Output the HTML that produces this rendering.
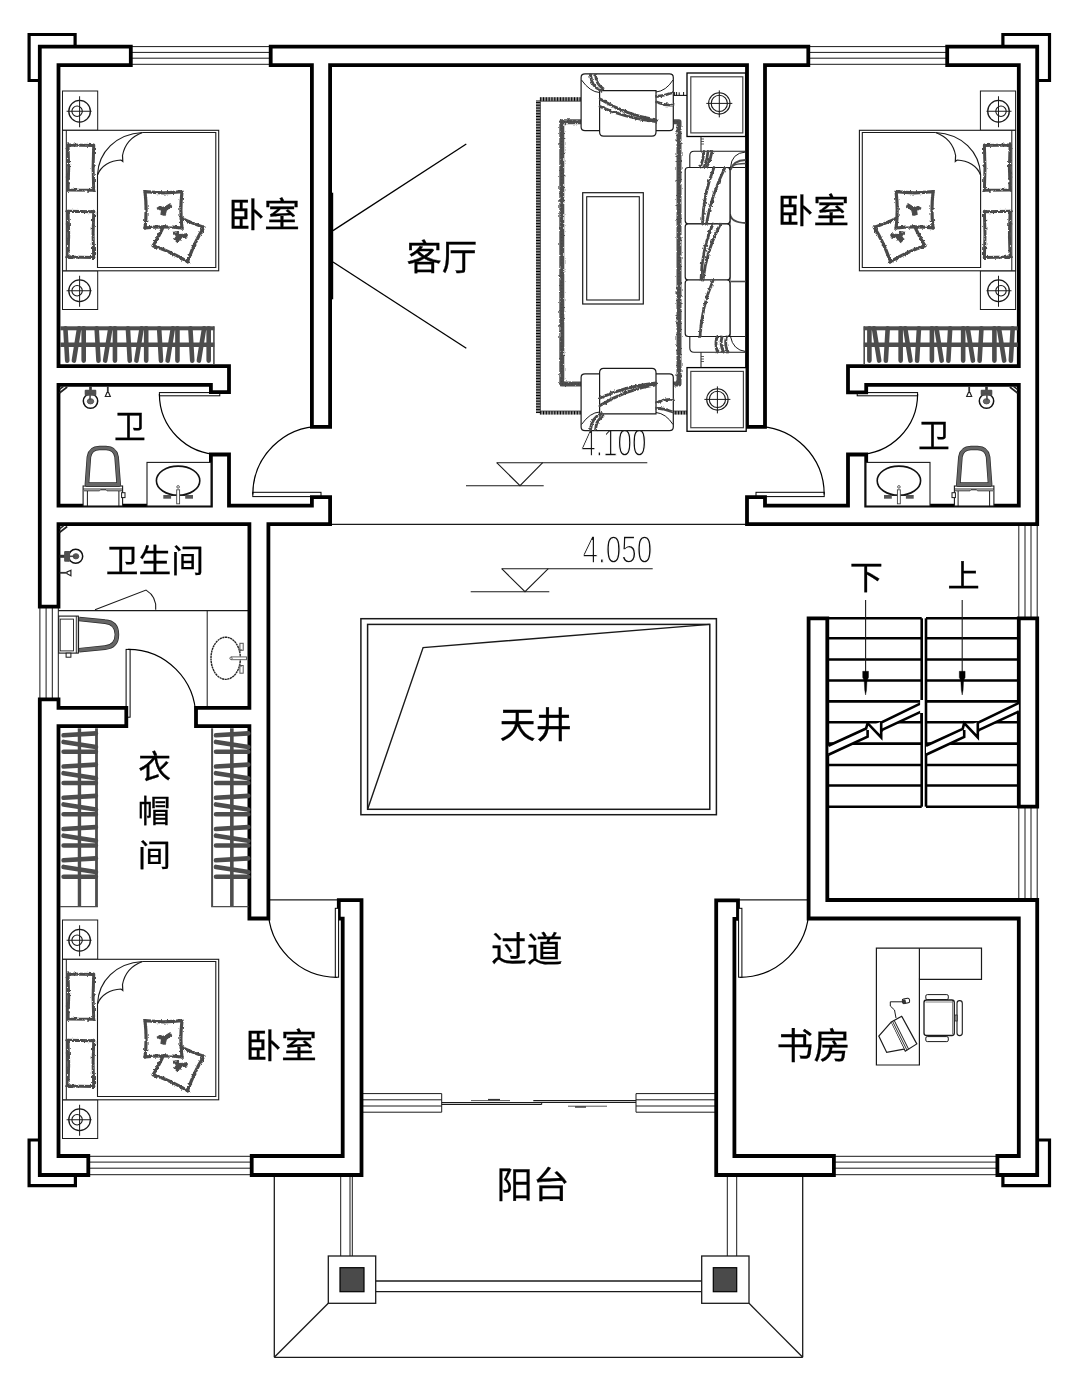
<!DOCTYPE html>
<html lang="zh"><head><meta charset="utf-8"><title>二层平面图</title>
<style>
html,body{margin:0;padding:0;background:#fff;}
body{width:1080px;height:1386px;overflow:hidden;}
svg{display:block}
text{font-family:"Liberation Sans","Noto Sans CJK SC",sans-serif;fill:#000;stroke:#000;stroke-width:0.3px;}
</style></head><body>
<svg width="1080" height="1386" viewBox="0 0 1080 1386" style="filter:grayscale(1)">
<rect width="1080" height="1386" fill="#fff"/>
<defs><filter id="rough" x="-5%" y="-5%" width="110%" height="110%"><feTurbulence type="fractalNoise" baseFrequency="0.4" numOctaves="2" seed="3" result="n"/><feDisplacementMap in="SourceGraphic" in2="n" scale="3" xChannelSelector="R" yChannelSelector="G"/></filter></defs>
<line x1="130.80" y1="46.60" x2="270.70" y2="46.60" stroke="#1a1a1a" stroke-width="1"/>
<line x1="130.80" y1="52.40" x2="270.70" y2="52.40" stroke="#1a1a1a" stroke-width="1"/>
<line x1="130.80" y1="58.20" x2="270.70" y2="58.20" stroke="#1a1a1a" stroke-width="1"/>
<line x1="130.80" y1="64.30" x2="270.70" y2="64.30" stroke="#1a1a1a" stroke-width="1"/>
<line x1="808.30" y1="46.60" x2="947.20" y2="46.60" stroke="#1a1a1a" stroke-width="1"/>
<line x1="808.30" y1="52.40" x2="947.20" y2="52.40" stroke="#1a1a1a" stroke-width="1"/>
<line x1="808.30" y1="58.20" x2="947.20" y2="58.20" stroke="#1a1a1a" stroke-width="1"/>
<line x1="808.30" y1="64.30" x2="947.20" y2="64.30" stroke="#1a1a1a" stroke-width="1"/>
<line x1="88.30" y1="1156.30" x2="251.70" y2="1156.30" stroke="#1a1a1a" stroke-width="1"/>
<line x1="88.30" y1="1162.10" x2="251.70" y2="1162.10" stroke="#1a1a1a" stroke-width="1"/>
<line x1="88.30" y1="1168.20" x2="251.70" y2="1168.20" stroke="#1a1a1a" stroke-width="1"/>
<line x1="88.30" y1="1174.70" x2="251.70" y2="1174.70" stroke="#1a1a1a" stroke-width="1"/>
<line x1="833.90" y1="1156.30" x2="997.40" y2="1156.30" stroke="#1a1a1a" stroke-width="1"/>
<line x1="833.90" y1="1162.10" x2="997.40" y2="1162.10" stroke="#1a1a1a" stroke-width="1"/>
<line x1="833.90" y1="1168.20" x2="997.40" y2="1168.20" stroke="#1a1a1a" stroke-width="1"/>
<line x1="833.90" y1="1174.70" x2="997.40" y2="1174.70" stroke="#1a1a1a" stroke-width="1"/>
<line x1="39.90" y1="606.70" x2="39.90" y2="700.00" stroke="#1a1a1a" stroke-width="1"/>
<line x1="46.10" y1="606.70" x2="46.10" y2="700.00" stroke="#1a1a1a" stroke-width="1"/>
<line x1="52.30" y1="606.70" x2="52.30" y2="700.00" stroke="#1a1a1a" stroke-width="1"/>
<line x1="58.30" y1="606.70" x2="58.30" y2="700.00" stroke="#1a1a1a" stroke-width="1"/>
<line x1="1018.80" y1="524.10" x2="1018.80" y2="618.30" stroke="#1a1a1a" stroke-width="1"/>
<line x1="1025.00" y1="524.10" x2="1025.00" y2="618.30" stroke="#1a1a1a" stroke-width="1"/>
<line x1="1031.00" y1="524.10" x2="1031.00" y2="618.30" stroke="#1a1a1a" stroke-width="1"/>
<line x1="1037.20" y1="524.10" x2="1037.20" y2="618.30" stroke="#1a1a1a" stroke-width="1"/>
<line x1="1018.80" y1="806.70" x2="1018.80" y2="900.00" stroke="#1a1a1a" stroke-width="1"/>
<line x1="1025.00" y1="806.70" x2="1025.00" y2="900.00" stroke="#1a1a1a" stroke-width="1"/>
<line x1="1031.00" y1="806.70" x2="1031.00" y2="900.00" stroke="#1a1a1a" stroke-width="1"/>
<line x1="1037.20" y1="806.70" x2="1037.20" y2="900.00" stroke="#1a1a1a" stroke-width="1"/>
<line x1="330.00" y1="524.40" x2="747.00" y2="524.40" stroke="#1a1a1a" stroke-width="1.1"/>
<line x1="58.30" y1="610.60" x2="250.00" y2="610.60" stroke="#1a1a1a" stroke-width="1.1"/>
<line x1="207.20" y1="610.60" x2="207.20" y2="708.30" stroke="#1a1a1a" stroke-width="1"/>
<line x1="274.30" y1="1175.00" x2="274.30" y2="1357.30" stroke="#1a1a1a" stroke-width="1.3"/>
<line x1="802.70" y1="1175.00" x2="802.70" y2="1357.30" stroke="#1a1a1a" stroke-width="1.3"/>
<line x1="274.30" y1="1357.30" x2="802.70" y2="1357.30" stroke="#1a1a1a" stroke-width="1.3"/>
<line x1="274.30" y1="1357.30" x2="328.30" y2="1303.30" stroke="#1a1a1a" stroke-width="1.3"/>
<line x1="802.70" y1="1357.30" x2="749.00" y2="1303.30" stroke="#1a1a1a" stroke-width="1.3"/>
<line x1="340.70" y1="1175.00" x2="340.70" y2="1256.00" stroke="#1a1a1a" stroke-width="1"/>
<line x1="350.00" y1="1175.00" x2="350.00" y2="1256.00" stroke="#1a1a1a" stroke-width="1"/>
<line x1="352.30" y1="1175.00" x2="352.30" y2="1256.00" stroke="#1a1a1a" stroke-width="1"/>
<line x1="727.30" y1="1175.00" x2="727.30" y2="1256.00" stroke="#1a1a1a" stroke-width="1"/>
<line x1="736.70" y1="1175.00" x2="736.70" y2="1256.00" stroke="#1a1a1a" stroke-width="1"/>
<line x1="375.70" y1="1281.00" x2="701.70" y2="1281.00" stroke="#1a1a1a" stroke-width="1.3"/>
<line x1="375.70" y1="1291.70" x2="701.70" y2="1291.70" stroke="#1a1a1a" stroke-width="1.3"/>
<rect x="328.30" y="1256.00" width="47.40" height="47.30" fill="#fff" stroke="#1a1a1a" stroke-width="1.3"/>
<rect x="701.70" y="1256.00" width="47.30" height="47.30" fill="#fff" stroke="#1a1a1a" stroke-width="1.3"/>
<rect x="340.00" y="1267.70" width="24.00" height="24.00" fill="#4a4a4a" stroke="#000" stroke-width="1.2"/>
<rect x="713.30" y="1267.70" width="23.40" height="24.00" fill="#4a4a4a" stroke="#000" stroke-width="1.2"/>
<line x1="361.50" y1="1093.60" x2="441.70" y2="1093.60" stroke="#1a1a1a" stroke-width="1"/>
<line x1="636.00" y1="1093.60" x2="716.20" y2="1093.60" stroke="#1a1a1a" stroke-width="1"/>
<line x1="361.50" y1="1099.80" x2="441.70" y2="1099.80" stroke="#1a1a1a" stroke-width="1"/>
<line x1="636.00" y1="1099.80" x2="716.20" y2="1099.80" stroke="#1a1a1a" stroke-width="1"/>
<line x1="361.50" y1="1106.00" x2="441.70" y2="1106.00" stroke="#1a1a1a" stroke-width="1"/>
<line x1="636.00" y1="1106.00" x2="716.20" y2="1106.00" stroke="#1a1a1a" stroke-width="1"/>
<line x1="361.50" y1="1112.20" x2="441.70" y2="1112.20" stroke="#1a1a1a" stroke-width="1"/>
<line x1="636.00" y1="1112.20" x2="716.20" y2="1112.20" stroke="#1a1a1a" stroke-width="1"/>
<line x1="441.70" y1="1093.60" x2="441.70" y2="1112.20" stroke="#1a1a1a" stroke-width="1"/>
<line x1="636.00" y1="1093.60" x2="636.00" y2="1112.20" stroke="#1a1a1a" stroke-width="1"/>
<line x1="441.70" y1="1102.70" x2="541.70" y2="1102.70" stroke="#1a1a1a" stroke-width="1.2"/>
<line x1="441.70" y1="1104.50" x2="541.70" y2="1104.50" stroke="#1a1a1a" stroke-width="1"/>
<line x1="541.70" y1="1102.70" x2="541.70" y2="1104.50" stroke="#1a1a1a" stroke-width="1"/>
<line x1="533.30" y1="1100.70" x2="636.00" y2="1100.70" stroke="#1a1a1a" stroke-width="1.2"/>
<line x1="533.30" y1="1102.50" x2="636.00" y2="1102.50" stroke="#1a1a1a" stroke-width="1"/>
<line x1="471.00" y1="1100.60" x2="510.00" y2="1100.60" stroke="#555" stroke-width="1"/>
<line x1="488.00" y1="1099.60" x2="500.00" y2="1099.60" stroke="#333" stroke-width="1.4"/>
<line x1="568.00" y1="1106.20" x2="607.00" y2="1106.20" stroke="#555" stroke-width="1"/>
<line x1="575.00" y1="1107.00" x2="586.00" y2="1107.00" stroke="#333" stroke-width="1.4"/>
<rect x="252.80" y="492.30" width="68.20" height="4.30" fill="#fff" stroke="#000" stroke-width="1"/>
<path d="M252.80,494.50 A68.2,68.2 0 0 1 321.00,426.30" fill="none" stroke="#000" stroke-width="1.2" />
<rect x="159.40" y="392.60" width="60.40" height="3.20" fill="#fff" stroke="#000" stroke-width="1"/>
<path d="M159.40,394.00 A60.4,60.4 0 0 0 219.80,454.40" fill="none" stroke="#000" stroke-width="1.2" />
<g transform="translate(1077,0) scale(-1,1)">
<rect x="252.80" y="492.30" width="68.20" height="4.30" fill="#fff" stroke="#000" stroke-width="1"/>
<path d="M252.80,494.50 A68.2,68.2 0 0 1 321.00,426.30" fill="none" stroke="#000" stroke-width="1.2" />
<rect x="159.40" y="392.60" width="60.40" height="3.20" fill="#fff" stroke="#000" stroke-width="1"/>
<path d="M159.40,394.00 A60.4,60.4 0 0 0 219.80,454.40" fill="none" stroke="#000" stroke-width="1.2" />
</g>
<rect x="126.10" y="649.40" width="4.00" height="67.80" fill="#fff" stroke="#000" stroke-width="1"/>
<path d="M128.10,649.40 A67.6,67.6 0 0 1 195.70,717.00" fill="none" stroke="#000" stroke-width="1.2" />
<line x1="268.40" y1="899.90" x2="338.80" y2="899.90" stroke="#1a1a1a" stroke-width="1.1"/>
<path d="M268.20,908.30 A69,69 0 0 0 337.20,977.30" fill="none" stroke="#000" stroke-width="1.2" />
<line x1="738.30" y1="899.90" x2="808.30" y2="899.90" stroke="#1a1a1a" stroke-width="1.1"/>
<path d="M808.80,908.30 A69,69 0 0 1 739.80,977.30" fill="none" stroke="#000" stroke-width="1.2" />
<path d="M95,609.8 L146.1,590.1 C152.5,594 156.5,601 155.7,609.8" fill="none" stroke="#1a1a1a" stroke-width="1.1" />
<path d="M37.90,44.70H132.70V67.00H37.90ZM268.80,44.70H810.20V67.00H268.80ZM945.30,44.70H1039.10V67.00H945.30ZM37.90,44.70H60.40V608.50H37.90ZM37.90,697.50H60.40V1176.90H37.90ZM1016.90,44.70H1039.10V526.00H1016.90ZM1016.90,616.40H1039.10V808.60H1016.90ZM1016.90,898.10H1039.10V1176.90H1016.90ZM37.90,1154.10H90.20V1176.90H37.90ZM249.80,1154.10H363.40V1176.90H249.80ZM714.30,1154.10H835.80V1176.90H714.30ZM995.50,1154.10H1039.10V1176.90H995.50ZM310.00,58.10H332.00V428.70H310.00ZM745.10,58.10H766.90V428.70H745.10ZM48.10,364.20H230.90V386.70H48.10ZM209.00,364.20H230.90V394.10H209.00ZM209.00,452.60H230.90V511.90H209.00ZM37.90,503.80H332.00V526.00H37.90ZM310.00,495.20H332.00V526.00H310.00ZM247.50,513.10H270.30V920.40H247.50ZM37.90,706.00H128.20V728.00H37.90ZM194.10,706.00H256.90V728.00H194.10ZM340.80,906.10H363.40V1176.90H340.80ZM336.90,898.30H363.40V920.60H336.90ZM846.10,364.20H1031.90V386.70H846.10ZM846.10,364.20H868.10V394.20H846.10ZM846.10,452.60H868.10V511.90H846.10ZM745.10,503.80H1039.10V526.00H745.10ZM745.10,495.20H766.90V526.00H745.10ZM806.70,616.40H829.20V920.40H806.70ZM806.70,898.10H1039.10V920.40H806.70ZM714.30,906.10H736.30V1176.90H714.30ZM714.30,898.40H739.90V920.80H714.30Z" fill="#000" fill-rule="nonzero"/>
<path d="M41.70,48.50H128.90V63.20H41.70ZM272.60,48.50H806.40V63.20H272.60ZM949.10,48.50H1035.30V63.20H949.10ZM41.70,48.50H56.60V604.70H41.70ZM41.70,701.30H56.60V1173.10H41.70ZM1020.70,48.50H1035.30V522.20H1020.70ZM1020.70,620.20H1035.30V804.80H1020.70ZM1020.70,901.90H1035.30V1173.10H1020.70ZM41.70,1157.90H86.40V1173.10H41.70ZM253.60,1157.90H359.60V1173.10H253.60ZM718.10,1157.90H832.00V1173.10H718.10ZM999.30,1157.90H1035.30V1173.10H999.30ZM313.80,61.90H328.20V424.90H313.80ZM748.90,61.90H763.10V424.90H748.90ZM51.90,368.00H227.10V382.90H51.90ZM212.80,368.00H227.10V390.30H212.80ZM212.80,456.40H227.10V508.10H212.80ZM41.70,507.60H328.20V522.20H41.70ZM313.80,499.00H328.20V522.20H313.80ZM251.30,516.90H266.50V916.60H251.30ZM41.70,709.80H124.40V724.20H41.70ZM197.90,709.80H253.10V724.20H197.90ZM344.60,909.90H359.60V1173.10H344.60ZM340.70,902.10H359.60V916.80H340.70ZM849.90,368.00H1028.10V382.90H849.90ZM849.90,368.00H864.30V390.40H849.90ZM849.90,456.40H864.30V508.10H849.90ZM748.90,507.60H1035.30V522.20H748.90ZM748.90,499.00H763.10V522.20H748.90ZM810.50,620.20H825.40V916.60H810.50ZM810.50,901.90H1035.30V916.60H810.50ZM718.10,909.90H732.50V1173.10H718.10ZM718.10,902.20H736.10V917.00H718.10Z" fill="#fff" fill-rule="nonzero"/>
<rect x="335.30" y="908.30" width="3.30" height="68.90" fill="#fff" stroke="#000" stroke-width="1"/>
<rect x="738.60" y="908.30" width="3.30" height="68.90" fill="#fff" stroke="#000" stroke-width="1"/>
<rect x="330" y="192.7" width="3.2" height="106.6" fill="#000"/>
<path d="M75.1,46.7 V34.5 H29.1 V80.5 H39.8" fill="none" stroke="#000" stroke-width="3.2" />
<path d="M1002.9,46.7 V34.5 H1049.5 V80.5 H1037.2" fill="none" stroke="#000" stroke-width="3.2" />
<path d="M39.8,1140 H29.1 V1185.7 H75.4 V1175" fill="none" stroke="#000" stroke-width="3.2" />
<path d="M1037.2,1140 H1049.5 V1185.7 H1002.9 V1175" fill="none" stroke="#000" stroke-width="3.2" />
<rect x="360.90" y="618.70" width="355.50" height="196.00" fill="none" stroke="#1a1a1a" stroke-width="1.5"/>
<rect x="367.60" y="624.40" width="342.20" height="184.90" fill="none" stroke="#1a1a1a" stroke-width="1.5"/>
<path d="M367.6,809.3 L423.1,647.6 L709.8,624.4" fill="none" stroke="#1a1a1a" stroke-width="1.4" />
<line x1="827.30" y1="618.30" x2="921.70" y2="618.30" stroke="#000" stroke-width="2.6"/>
<line x1="926.00" y1="618.30" x2="1018.80" y2="618.30" stroke="#000" stroke-width="2.6"/>
<line x1="827.30" y1="638.30" x2="921.70" y2="638.30" stroke="#000" stroke-width="2.6"/>
<line x1="926.00" y1="638.30" x2="1018.80" y2="638.30" stroke="#000" stroke-width="2.6"/>
<line x1="827.30" y1="659.50" x2="921.70" y2="659.50" stroke="#000" stroke-width="2.6"/>
<line x1="926.00" y1="659.50" x2="1018.80" y2="659.50" stroke="#000" stroke-width="2.6"/>
<line x1="827.30" y1="680.50" x2="921.70" y2="680.50" stroke="#000" stroke-width="2.6"/>
<line x1="926.00" y1="680.50" x2="1018.80" y2="680.50" stroke="#000" stroke-width="2.6"/>
<line x1="827.30" y1="701.40" x2="921.70" y2="701.40" stroke="#000" stroke-width="2.6"/>
<line x1="926.00" y1="701.40" x2="1018.80" y2="701.40" stroke="#000" stroke-width="2.6"/>
<line x1="827.30" y1="722.20" x2="921.70" y2="722.20" stroke="#000" stroke-width="2.6"/>
<line x1="926.00" y1="722.20" x2="1018.80" y2="722.20" stroke="#000" stroke-width="2.6"/>
<line x1="827.30" y1="743.60" x2="921.70" y2="743.60" stroke="#000" stroke-width="2.6"/>
<line x1="926.00" y1="743.60" x2="1018.80" y2="743.60" stroke="#000" stroke-width="2.6"/>
<line x1="827.30" y1="765.00" x2="921.70" y2="765.00" stroke="#000" stroke-width="2.6"/>
<line x1="926.00" y1="765.00" x2="1018.80" y2="765.00" stroke="#000" stroke-width="2.6"/>
<line x1="827.30" y1="785.50" x2="921.70" y2="785.50" stroke="#000" stroke-width="2.6"/>
<line x1="926.00" y1="785.50" x2="1018.80" y2="785.50" stroke="#000" stroke-width="2.6"/>
<line x1="827.30" y1="806.70" x2="921.70" y2="806.70" stroke="#000" stroke-width="2.6"/>
<line x1="926.00" y1="806.70" x2="1018.80" y2="806.70" stroke="#000" stroke-width="2.6"/>
<line x1="921.70" y1="618.30" x2="921.70" y2="806.70" stroke="#000" stroke-width="2.6"/>
<line x1="926.00" y1="618.30" x2="926.00" y2="806.70" stroke="#000" stroke-width="2.6"/>
<polygon points="828.4,745.8 921.7,702.9 921.7,711.4 828.4,754.8" fill="#fff"/>
<path d="M828.4,745.8 L866.1,728.47 L867.6,723.2 L881.2,737.5 L881.2,722.52 L921.7,702.9" fill="none" stroke="#000" stroke-width="2.6" stroke-linejoin="miter"/>
<path d="M828.4,754.8 L867.6,736.57 L867.6,730 M881.2,731 L882.7,729.54 L921.7,711.4" fill="none" stroke="#000" stroke-width="2.6" />
<polygon points="926,745.8 1018.9,702.9 1018.9,711.4 926,754.8" fill="#fff"/>
<path d="M926,745.8 L962.7,728.85 L964.2,723.2 L977.8000000000001,737.5 L977.8000000000001,722.88 L1018.9,702.9" fill="none" stroke="#000" stroke-width="2.6" stroke-linejoin="miter"/>
<path d="M926,754.8 L964.2,736.95 L964.2,730 M977.8000000000001,731 L979.3000000000001,729.90 L1018.9,711.4" fill="none" stroke="#000" stroke-width="2.6" />
<line x1="921.70" y1="700.00" x2="921.70" y2="713.00" stroke="#fff" stroke-width="3.2"/>
<line x1="921.70" y1="713.00" x2="921.70" y2="722.00" stroke="#000" stroke-width="2.6"/>
<line x1="865.60" y1="600.00" x2="865.60" y2="672.00" stroke="#1a1a1a" stroke-width="1.1"/>
<path d="M862.7,671.3 H868.5 V677.5 L867.0,680.5 L866.5,690 L865.6,695 L864.7,690 L864.2,680.5 L862.7,677.5 Z" fill="#000" stroke="#000" stroke-width="0.4" />
<line x1="962.20" y1="600.00" x2="962.20" y2="672.00" stroke="#1a1a1a" stroke-width="1.1"/>
<path d="M959.3000000000001,671.3 H965.1 V677.5 L963.6,680.5 L963.1,690 L962.2,695 L961.3000000000001,690 L960.8000000000001,680.5 L959.3000000000001,677.5 Z" fill="#000" stroke="#000" stroke-width="0.4" />
<line x1="496.70" y1="462.70" x2="647.30" y2="462.70" stroke="#1a1a1a" stroke-width="1.1"/>
<path d="M496.7,462.7 L520,485.7 L542.7,462.7" fill="none" stroke="#1a1a1a" stroke-width="1.1" />
<line x1="466.00" y1="485.70" x2="543.70" y2="485.70" stroke="#1a1a1a" stroke-width="1.1"/>
<line x1="501.70" y1="568.70" x2="652.70" y2="568.70" stroke="#1a1a1a" stroke-width="1.1"/>
<path d="M501.7,568.7 L525,591.7 L548.3,568.7" fill="none" stroke="#1a1a1a" stroke-width="1.1" />
<line x1="470.70" y1="591.70" x2="549.30" y2="591.70" stroke="#1a1a1a" stroke-width="1.1"/>
<text transform="translate(581.32,456.25) scale(0.7778,1.1476)" font-size="33.5" style="font-family:'Liberation Sans',sans-serif;fill:#111;stroke:#fff;stroke-width:1.25px">4.100</text>
<text transform="translate(582.57,562.78) scale(0.8333,1.1762)" font-size="33.5" style="font-family:'Liberation Sans',sans-serif;fill:#111;stroke:#fff;stroke-width:1.25px">4.050</text>
<line x1="333.00" y1="230.60" x2="466.30" y2="144.00" stroke="#000" stroke-width="1.3"/>
<line x1="333.00" y1="262.00" x2="466.30" y2="348.30" stroke="#000" stroke-width="1.3"/>
<g transform="translate(0,0)">
<rect x="62.50" y="91.00" width="35.20" height="39.30" fill="#fff" stroke="#1a1a1a" stroke-width="1"/>
<circle cx="79.60" cy="111.25" r="10.80" fill="none" stroke="#1a1a1a" stroke-width="1.3"/>
<circle cx="77.10" cy="111.25" r="5.20" fill="none" stroke="#1a1a1a" stroke-width="1.1"/>
<line x1="66.60" y1="111.25" x2="91.60" y2="111.25" stroke="#1a1a1a" stroke-width="1"/>
<line x1="79.60" y1="96.25" x2="79.60" y2="127.25" stroke="#1a1a1a" stroke-width="1"/>
<rect x="62.50" y="270.80" width="35.20" height="38.70" fill="#fff" stroke="#1a1a1a" stroke-width="1"/>
<circle cx="79.60" cy="290.75" r="10.80" fill="none" stroke="#1a1a1a" stroke-width="1.3"/>
<circle cx="77.10" cy="290.75" r="5.20" fill="none" stroke="#1a1a1a" stroke-width="1.1"/>
<line x1="66.60" y1="290.75" x2="91.60" y2="290.75" stroke="#1a1a1a" stroke-width="1"/>
<line x1="79.60" y1="275.75" x2="79.60" y2="306.75" stroke="#1a1a1a" stroke-width="1"/>
<rect x="62.50" y="130.30" width="156.20" height="140.50" fill="#fff" stroke="#1a1a1a" stroke-width="1.1"/>
<line x1="66.30" y1="130.30" x2="66.30" y2="270.80" stroke="#1a1a1a" stroke-width="1"/>
<path d="M142.5,132.5 H215.8 V267.5 H97.5 V175" fill="none" stroke="#1a1a1a" stroke-width="1.1" />
<path d="M97.5,175 C98.5,152 116,134 142.5,132.5" fill="none" stroke="#1a1a1a" stroke-width="1.2" />
<path d="M97.5,175 C101,166 110,160.5 121,160 L122.8,161.5 L122.5,155.5 C124.5,145 131.5,136.5 142.5,132.5" fill="none" stroke="#1a1a1a" stroke-width="1.2" />
<g filter="url(#rough)">
<path d="M68,145 L93.7,145.5 L93.10000000000001,167.65 L93.7,190.3 L68,189.9 L68.7,167.65 Z" fill="#fff" stroke="#4a4a4a" stroke-width="3.0" stroke-linejoin="round"/>
<circle cx="68.00" cy="145.00" r="1.10" fill="#4a4a4a" stroke="#4a4a4a" stroke-width="1"/>
<circle cx="93.70" cy="145.00" r="1.10" fill="#4a4a4a" stroke="#4a4a4a" stroke-width="1"/>
<circle cx="68.00" cy="190.30" r="1.10" fill="#4a4a4a" stroke="#4a4a4a" stroke-width="1"/>
<circle cx="93.70" cy="190.30" r="1.10" fill="#4a4a4a" stroke="#4a4a4a" stroke-width="1"/>
</g>
<g filter="url(#rough)">
<path d="M68,211.3 L93.7,211.8 L93.10000000000001,234.4 L93.7,257.5 L68,257.1 L68.7,234.4 Z" fill="#fff" stroke="#4a4a4a" stroke-width="3.0" stroke-linejoin="round"/>
<circle cx="68.00" cy="211.30" r="1.10" fill="#4a4a4a" stroke="#4a4a4a" stroke-width="1"/>
<circle cx="93.70" cy="211.30" r="1.10" fill="#4a4a4a" stroke="#4a4a4a" stroke-width="1"/>
<circle cx="68.00" cy="257.50" r="1.10" fill="#4a4a4a" stroke="#4a4a4a" stroke-width="1"/>
<circle cx="93.70" cy="257.50" r="1.10" fill="#4a4a4a" stroke="#4a4a4a" stroke-width="1"/>
</g>
<g filter="url(#rough)">
<g transform="rotate(25 178.5 236.5)">
<path d="M159.5,217.5 Q178.5,219.7 197.5,217.5 Q195.3,236.5 197.5,255.5 Q178.5,253.3 159.5,255.5 Q161.7,236.5 159.5,217.5 Z" fill="#fff" stroke="#4a4a4a" stroke-width="3.2" stroke-linejoin="round"/>
<circle cx="159.50" cy="217.50" r="1.20" fill="#4a4a4a" stroke="#4a4a4a" stroke-width="1"/>
<circle cx="197.50" cy="217.50" r="1.20" fill="#4a4a4a" stroke="#4a4a4a" stroke-width="1"/>
<circle cx="159.50" cy="255.50" r="1.20" fill="#4a4a4a" stroke="#4a4a4a" stroke-width="1"/>
<circle cx="197.50" cy="255.50" r="1.20" fill="#4a4a4a" stroke="#4a4a4a" stroke-width="1"/>
<path d="M172.0,235.0 l4,-2.6 l2.6,2 l6.5,-4 l1.4,2.6 l-5.2,4 l-1.3,5.2 l-4,-1.3 l0.6,-4 Z" fill="#4a4a4a" stroke="#4a4a4a" stroke-width="1.2" />
</g>
</g>
<g filter="url(#rough)">
<path d="M145,191.7 Q163.5,193.89999999999998 182,191.7 Q179.8,209.85 182,228 Q163.5,225.8 145,228 Q147.2,209.85 145,191.7 Z" fill="#fff" stroke="#4a4a4a" stroke-width="3.2" stroke-linejoin="round"/>
<circle cx="145.00" cy="191.70" r="1.20" fill="#4a4a4a" stroke="#4a4a4a" stroke-width="1"/>
<circle cx="182.00" cy="191.70" r="1.20" fill="#4a4a4a" stroke="#4a4a4a" stroke-width="1"/>
<circle cx="145.00" cy="228.00" r="1.20" fill="#4a4a4a" stroke="#4a4a4a" stroke-width="1"/>
<circle cx="182.00" cy="228.00" r="1.20" fill="#4a4a4a" stroke="#4a4a4a" stroke-width="1"/>
<path d="M157.0,208.35 l4,-2.6 l2.6,2 l6.5,-4 l1.4,2.6 l-5.2,4 l-1.3,5.2 l-4,-1.3 l0.6,-4 Z" fill="#4a4a4a" stroke="#4a4a4a" stroke-width="1.2" />
</g>
</g>
<g transform="translate(0,829)">
<rect x="62.50" y="91.00" width="35.20" height="39.30" fill="#fff" stroke="#1a1a1a" stroke-width="1"/>
<circle cx="79.60" cy="111.25" r="10.80" fill="none" stroke="#1a1a1a" stroke-width="1.3"/>
<circle cx="77.10" cy="111.25" r="5.20" fill="none" stroke="#1a1a1a" stroke-width="1.1"/>
<line x1="66.60" y1="111.25" x2="91.60" y2="111.25" stroke="#1a1a1a" stroke-width="1"/>
<line x1="79.60" y1="96.25" x2="79.60" y2="127.25" stroke="#1a1a1a" stroke-width="1"/>
<rect x="62.50" y="270.80" width="35.20" height="38.70" fill="#fff" stroke="#1a1a1a" stroke-width="1"/>
<circle cx="79.60" cy="290.75" r="10.80" fill="none" stroke="#1a1a1a" stroke-width="1.3"/>
<circle cx="77.10" cy="290.75" r="5.20" fill="none" stroke="#1a1a1a" stroke-width="1.1"/>
<line x1="66.60" y1="290.75" x2="91.60" y2="290.75" stroke="#1a1a1a" stroke-width="1"/>
<line x1="79.60" y1="275.75" x2="79.60" y2="306.75" stroke="#1a1a1a" stroke-width="1"/>
<rect x="62.50" y="130.30" width="156.20" height="140.50" fill="#fff" stroke="#1a1a1a" stroke-width="1.1"/>
<line x1="66.30" y1="130.30" x2="66.30" y2="270.80" stroke="#1a1a1a" stroke-width="1"/>
<path d="M142.5,132.5 H215.8 V267.5 H97.5 V175" fill="none" stroke="#1a1a1a" stroke-width="1.1" />
<path d="M97.5,175 C98.5,152 116,134 142.5,132.5" fill="none" stroke="#1a1a1a" stroke-width="1.2" />
<path d="M97.5,175 C101,166 110,160.5 121,160 L122.8,161.5 L122.5,155.5 C124.5,145 131.5,136.5 142.5,132.5" fill="none" stroke="#1a1a1a" stroke-width="1.2" />
<g filter="url(#rough)">
<path d="M68,145 L93.7,145.5 L93.10000000000001,167.65 L93.7,190.3 L68,189.9 L68.7,167.65 Z" fill="#fff" stroke="#4a4a4a" stroke-width="3.0" stroke-linejoin="round"/>
<circle cx="68.00" cy="145.00" r="1.10" fill="#4a4a4a" stroke="#4a4a4a" stroke-width="1"/>
<circle cx="93.70" cy="145.00" r="1.10" fill="#4a4a4a" stroke="#4a4a4a" stroke-width="1"/>
<circle cx="68.00" cy="190.30" r="1.10" fill="#4a4a4a" stroke="#4a4a4a" stroke-width="1"/>
<circle cx="93.70" cy="190.30" r="1.10" fill="#4a4a4a" stroke="#4a4a4a" stroke-width="1"/>
</g>
<g filter="url(#rough)">
<path d="M68,211.3 L93.7,211.8 L93.10000000000001,234.4 L93.7,257.5 L68,257.1 L68.7,234.4 Z" fill="#fff" stroke="#4a4a4a" stroke-width="3.0" stroke-linejoin="round"/>
<circle cx="68.00" cy="211.30" r="1.10" fill="#4a4a4a" stroke="#4a4a4a" stroke-width="1"/>
<circle cx="93.70" cy="211.30" r="1.10" fill="#4a4a4a" stroke="#4a4a4a" stroke-width="1"/>
<circle cx="68.00" cy="257.50" r="1.10" fill="#4a4a4a" stroke="#4a4a4a" stroke-width="1"/>
<circle cx="93.70" cy="257.50" r="1.10" fill="#4a4a4a" stroke="#4a4a4a" stroke-width="1"/>
</g>
<g filter="url(#rough)">
<g transform="rotate(25 178.5 236.5)">
<path d="M159.5,217.5 Q178.5,219.7 197.5,217.5 Q195.3,236.5 197.5,255.5 Q178.5,253.3 159.5,255.5 Q161.7,236.5 159.5,217.5 Z" fill="#fff" stroke="#4a4a4a" stroke-width="3.2" stroke-linejoin="round"/>
<circle cx="159.50" cy="217.50" r="1.20" fill="#4a4a4a" stroke="#4a4a4a" stroke-width="1"/>
<circle cx="197.50" cy="217.50" r="1.20" fill="#4a4a4a" stroke="#4a4a4a" stroke-width="1"/>
<circle cx="159.50" cy="255.50" r="1.20" fill="#4a4a4a" stroke="#4a4a4a" stroke-width="1"/>
<circle cx="197.50" cy="255.50" r="1.20" fill="#4a4a4a" stroke="#4a4a4a" stroke-width="1"/>
<path d="M172.0,235.0 l4,-2.6 l2.6,2 l6.5,-4 l1.4,2.6 l-5.2,4 l-1.3,5.2 l-4,-1.3 l0.6,-4 Z" fill="#4a4a4a" stroke="#4a4a4a" stroke-width="1.2" />
</g>
</g>
<g filter="url(#rough)">
<path d="M145,191.7 Q163.5,193.89999999999998 182,191.7 Q179.8,209.85 182,228 Q163.5,225.8 145,228 Q147.2,209.85 145,191.7 Z" fill="#fff" stroke="#4a4a4a" stroke-width="3.2" stroke-linejoin="round"/>
<circle cx="145.00" cy="191.70" r="1.20" fill="#4a4a4a" stroke="#4a4a4a" stroke-width="1"/>
<circle cx="182.00" cy="191.70" r="1.20" fill="#4a4a4a" stroke="#4a4a4a" stroke-width="1"/>
<circle cx="145.00" cy="228.00" r="1.20" fill="#4a4a4a" stroke="#4a4a4a" stroke-width="1"/>
<circle cx="182.00" cy="228.00" r="1.20" fill="#4a4a4a" stroke="#4a4a4a" stroke-width="1"/>
<path d="M157.0,208.35 l4,-2.6 l2.6,2 l6.5,-4 l1.4,2.6 l-5.2,4 l-1.3,5.2 l-4,-1.3 l0.6,-4 Z" fill="#4a4a4a" stroke="#4a4a4a" stroke-width="1.2" />
</g>
</g>
<g transform="translate(1078.1,0) scale(-1,1)">
<g transform="translate(0,0)">
<rect x="62.50" y="91.00" width="35.20" height="39.30" fill="#fff" stroke="#1a1a1a" stroke-width="1"/>
<circle cx="79.60" cy="111.25" r="10.80" fill="none" stroke="#1a1a1a" stroke-width="1.3"/>
<circle cx="77.10" cy="111.25" r="5.20" fill="none" stroke="#1a1a1a" stroke-width="1.1"/>
<line x1="66.60" y1="111.25" x2="91.60" y2="111.25" stroke="#1a1a1a" stroke-width="1"/>
<line x1="79.60" y1="96.25" x2="79.60" y2="127.25" stroke="#1a1a1a" stroke-width="1"/>
<rect x="62.50" y="270.80" width="35.20" height="38.70" fill="#fff" stroke="#1a1a1a" stroke-width="1"/>
<circle cx="79.60" cy="290.75" r="10.80" fill="none" stroke="#1a1a1a" stroke-width="1.3"/>
<circle cx="77.10" cy="290.75" r="5.20" fill="none" stroke="#1a1a1a" stroke-width="1.1"/>
<line x1="66.60" y1="290.75" x2="91.60" y2="290.75" stroke="#1a1a1a" stroke-width="1"/>
<line x1="79.60" y1="275.75" x2="79.60" y2="306.75" stroke="#1a1a1a" stroke-width="1"/>
<rect x="62.50" y="130.30" width="156.20" height="140.50" fill="#fff" stroke="#1a1a1a" stroke-width="1.1"/>
<line x1="66.30" y1="130.30" x2="66.30" y2="270.80" stroke="#1a1a1a" stroke-width="1"/>
<path d="M142.5,132.5 H215.8 V267.5 H97.5 V175" fill="none" stroke="#1a1a1a" stroke-width="1.1" />
<path d="M97.5,175 C98.5,152 116,134 142.5,132.5" fill="none" stroke="#1a1a1a" stroke-width="1.2" />
<path d="M97.5,175 C101,166 110,160.5 121,160 L122.8,161.5 L122.5,155.5 C124.5,145 131.5,136.5 142.5,132.5" fill="none" stroke="#1a1a1a" stroke-width="1.2" />
<g filter="url(#rough)">
<path d="M68,145 L93.7,145.5 L93.10000000000001,167.65 L93.7,190.3 L68,189.9 L68.7,167.65 Z" fill="#fff" stroke="#4a4a4a" stroke-width="3.0" stroke-linejoin="round"/>
<circle cx="68.00" cy="145.00" r="1.10" fill="#4a4a4a" stroke="#4a4a4a" stroke-width="1"/>
<circle cx="93.70" cy="145.00" r="1.10" fill="#4a4a4a" stroke="#4a4a4a" stroke-width="1"/>
<circle cx="68.00" cy="190.30" r="1.10" fill="#4a4a4a" stroke="#4a4a4a" stroke-width="1"/>
<circle cx="93.70" cy="190.30" r="1.10" fill="#4a4a4a" stroke="#4a4a4a" stroke-width="1"/>
</g>
<g filter="url(#rough)">
<path d="M68,211.3 L93.7,211.8 L93.10000000000001,234.4 L93.7,257.5 L68,257.1 L68.7,234.4 Z" fill="#fff" stroke="#4a4a4a" stroke-width="3.0" stroke-linejoin="round"/>
<circle cx="68.00" cy="211.30" r="1.10" fill="#4a4a4a" stroke="#4a4a4a" stroke-width="1"/>
<circle cx="93.70" cy="211.30" r="1.10" fill="#4a4a4a" stroke="#4a4a4a" stroke-width="1"/>
<circle cx="68.00" cy="257.50" r="1.10" fill="#4a4a4a" stroke="#4a4a4a" stroke-width="1"/>
<circle cx="93.70" cy="257.50" r="1.10" fill="#4a4a4a" stroke="#4a4a4a" stroke-width="1"/>
</g>
<g filter="url(#rough)">
<g transform="rotate(25 178.5 236.5)">
<path d="M159.5,217.5 Q178.5,219.7 197.5,217.5 Q195.3,236.5 197.5,255.5 Q178.5,253.3 159.5,255.5 Q161.7,236.5 159.5,217.5 Z" fill="#fff" stroke="#4a4a4a" stroke-width="3.2" stroke-linejoin="round"/>
<circle cx="159.50" cy="217.50" r="1.20" fill="#4a4a4a" stroke="#4a4a4a" stroke-width="1"/>
<circle cx="197.50" cy="217.50" r="1.20" fill="#4a4a4a" stroke="#4a4a4a" stroke-width="1"/>
<circle cx="159.50" cy="255.50" r="1.20" fill="#4a4a4a" stroke="#4a4a4a" stroke-width="1"/>
<circle cx="197.50" cy="255.50" r="1.20" fill="#4a4a4a" stroke="#4a4a4a" stroke-width="1"/>
<path d="M172.0,235.0 l4,-2.6 l2.6,2 l6.5,-4 l1.4,2.6 l-5.2,4 l-1.3,5.2 l-4,-1.3 l0.6,-4 Z" fill="#4a4a4a" stroke="#4a4a4a" stroke-width="1.2" />
</g>
</g>
<g filter="url(#rough)">
<path d="M145,191.7 Q163.5,193.89999999999998 182,191.7 Q179.8,209.85 182,228 Q163.5,225.8 145,228 Q147.2,209.85 145,191.7 Z" fill="#fff" stroke="#4a4a4a" stroke-width="3.2" stroke-linejoin="round"/>
<circle cx="145.00" cy="191.70" r="1.20" fill="#4a4a4a" stroke="#4a4a4a" stroke-width="1"/>
<circle cx="182.00" cy="191.70" r="1.20" fill="#4a4a4a" stroke="#4a4a4a" stroke-width="1"/>
<circle cx="145.00" cy="228.00" r="1.20" fill="#4a4a4a" stroke="#4a4a4a" stroke-width="1"/>
<circle cx="182.00" cy="228.00" r="1.20" fill="#4a4a4a" stroke="#4a4a4a" stroke-width="1"/>
<path d="M157.0,208.35 l4,-2.6 l2.6,2 l6.5,-4 l1.4,2.6 l-5.2,4 l-1.3,5.2 l-4,-1.3 l0.6,-4 Z" fill="#4a4a4a" stroke="#4a4a4a" stroke-width="1.2" />
</g>
</g>
</g>
<g transform="translate(60.3,326.3)">
<rect x="0" y="0" width="154" height="4" fill="#4d4d4d"/>
<rect x="152.8" y="0" width="1.6" height="38" fill="#4d4d4d"/>
<rect x="0" y="16.2" width="154" height="4.5" fill="#4d4d4d"/>
<path d="M5.10,2 L6.95,34.3M18.80,2 L13.60,34.3M23.40,2 L23.40,34.3M36.35,2 L38.20,34.3M50.05,2 L44.85,34.3M54.65,2 L54.65,34.3M67.60,2 L69.45,34.3M81.30,2 L76.10,34.3M85.90,2 L85.90,34.3M98.85,2 L100.70,34.3M112.55,2 L107.35,34.3M117.15,2 L117.15,34.3M130.10,2 L131.95,34.3M143.80,2 L138.60,34.3M148.40,2 L148.40,34.3" fill="none" stroke="#4d4d4d" stroke-width="4.6" stroke-linecap="round"/>
</g>
<g transform="translate(1078.1,0) scale(-1,1)">
<g transform="translate(60.3,326.3)">
<rect x="0" y="0" width="154" height="4" fill="#4d4d4d"/>
<rect x="152.8" y="0" width="1.6" height="38" fill="#4d4d4d"/>
<rect x="0" y="16.2" width="154" height="4.5" fill="#4d4d4d"/>
<path d="M5.10,2 L6.95,34.3M18.80,2 L13.60,34.3M23.40,2 L23.40,34.3M36.35,2 L38.20,34.3M50.05,2 L44.85,34.3M54.65,2 L54.65,34.3M67.60,2 L69.45,34.3M81.30,2 L76.10,34.3M85.90,2 L85.90,34.3M98.85,2 L100.70,34.3M112.55,2 L107.35,34.3M117.15,2 L117.15,34.3M130.10,2 L131.95,34.3M143.80,2 L138.60,34.3M148.40,2 L148.40,34.3" fill="none" stroke="#4d4d4d" stroke-width="4.6" stroke-linecap="round"/>
</g>
</g>
<g transform="translate(97.9,728.3) rotate(90)">
<rect x="0" y="0" width="178.4" height="2.8" fill="#4d4d4d"/>
<rect x="0" y="16.75" width="178.4" height="3.4" fill="#4d4d4d"/>
<path d="M5.10,2 L6.95,34.3M18.80,2 L13.60,34.3M23.40,2 L23.40,34.3M36.35,2 L38.20,34.3M50.05,2 L44.85,34.3M54.65,2 L54.65,34.3M67.60,2 L69.45,34.3M81.30,2 L76.10,34.3M85.90,2 L85.90,34.3M98.85,2 L100.70,34.3M112.55,2 L107.35,34.3M117.15,2 L117.15,34.3M130.10,2 L131.95,34.3M143.80,2 L138.60,34.3M148.40,2 L148.40,34.3" fill="none" stroke="#4d4d4d" stroke-width="4.6" stroke-linecap="round"/>
</g>
<g transform="translate(250.3,728.3) rotate(90)">
<rect x="0" y="37.2" width="178.4" height="2" fill="#4d4d4d"/>
<rect x="0" y="16.65" width="178.4" height="3.6" fill="#4d4d4d"/>
<path d="M5.10,2 L6.95,34.3M18.80,2 L13.60,34.3M23.40,2 L23.40,34.3M36.35,2 L38.20,34.3M50.05,2 L44.85,34.3M54.65,2 L54.65,34.3M67.60,2 L69.45,34.3M81.30,2 L76.10,34.3M85.90,2 L85.90,34.3M98.85,2 L100.70,34.3M112.55,2 L107.35,34.3M117.15,2 L117.15,34.3M130.10,2 L131.95,34.3M143.80,2 L138.60,34.3M148.40,2 L148.40,34.3" fill="none" stroke="#4d4d4d" stroke-width="4.6" stroke-linecap="round"/>
</g>
<line x1="60.00" y1="906.70" x2="97.90" y2="906.70" stroke="#4d4d4d" stroke-width="1.2"/>
<line x1="211.20" y1="906.70" x2="248.50" y2="906.70" stroke="#4d4d4d" stroke-width="1.2"/>
<line x1="90.50" y1="386.10" x2="90.50" y2="392.10" stroke="#333" stroke-width="2.6"/>
<rect x="84.70" y="389.70" width="11.6" height="5.6" rx="1" fill="#505050"/>
<circle cx="90.50" cy="401.10" r="7.20" fill="#fff" stroke="#111" stroke-width="1.5"/>
<rect x="85.10" y="393.10" width="10.8" height="2.6" fill="#505050"/>
<ellipse cx="90.50" cy="401.30" rx="3.20" ry="2.60" fill="#666" stroke="#555" stroke-width="1" />
<line x1="90.20" y1="395.10" x2="89.90" y2="400.10" stroke="#444" stroke-width="1.5"/>
<line x1="107.80" y1="386.10" x2="107.80" y2="392.60" stroke="#333" stroke-width="1.8"/>
<path d="M105.3,396.5 L107.0,392.5 L108.6,392.5 L110.3,396.5 Z" fill="#fff" stroke="#222" stroke-width="1.2" />
<path d="M59.5,393 L67.2,387 M59.5,389.3 L63.5,386.3" fill="none" stroke="#222" stroke-width="1.6" />
<rect x="83.10" y="486.00" width="39.50" height="20.00" fill="#fff" stroke="#1a1a1a" stroke-width="1.1"/>
<line x1="87.40" y1="491.00" x2="87.40" y2="506.00" stroke="#1a1a1a" stroke-width="1"/>
<line x1="118.90" y1="491.00" x2="118.90" y2="506.00" stroke="#1a1a1a" stroke-width="1"/>
<path d="M83.1,489 H122.6 M84,490.8 H99.5 l1,-1 h5.5 l1,1 H122" fill="none" stroke="#1a1a1a" stroke-width="0.9" />
<rect x="121.60" y="492.70" width="3.40" height="4.90" fill="#fff" stroke="#1a1a1a" stroke-width="1"/>
<path d="M86.9,484.6 L88.9,457 Q90.3,448 99.5,448 H106 Q115.2,448 116.6,457 L118.7,484.6 Z" fill="#fff" stroke="#2a2a2a" stroke-width="4.6" stroke-linejoin="round"/>
<path d="M86.9,484.6 L88.9,457 Q90.3,448 99.5,448 H106 Q115.2,448 116.6,457 L118.7,484.6 Z" fill="none" stroke="#666" stroke-width="3.2" stroke-linejoin="round"/>
<rect x="147.00" y="462.40" width="64.00" height="43.60" fill="#fff" stroke="#1a1a1a" stroke-width="1.1"/>
<ellipse cx="178.10" cy="480.70" rx="21.70" ry="14.60" fill="none" stroke="#111" stroke-width="1.6" />
<line x1="168.00" y1="495.40" x2="189.00" y2="495.40" stroke="#222" stroke-width="1.1"/>
<rect x="163.3" y="495" width="7.8" height="3.7" fill="#555"/>
<rect x="185.2" y="495" width="7.8" height="3.7" fill="#555"/>
<rect x="176.7" y="489.8" width="2.9" height="14" fill="#fff" stroke="#444" stroke-width="0.9"/>
<circle cx="178.10" cy="486.90" r="1.30" fill="#fff" stroke="#444" stroke-width="0.9"/>
<g transform="translate(1077,0) scale(-1,1)">
<line x1="90.50" y1="386.10" x2="90.50" y2="392.10" stroke="#333" stroke-width="2.6"/>
<rect x="84.70" y="389.70" width="11.6" height="5.6" rx="1" fill="#505050"/>
<circle cx="90.50" cy="401.10" r="7.20" fill="#fff" stroke="#111" stroke-width="1.5"/>
<rect x="85.10" y="393.10" width="10.8" height="2.6" fill="#505050"/>
<ellipse cx="90.50" cy="401.30" rx="3.20" ry="2.60" fill="#666" stroke="#555" stroke-width="1" />
<line x1="90.20" y1="395.10" x2="89.90" y2="400.10" stroke="#444" stroke-width="1.5"/>
<line x1="107.80" y1="386.10" x2="107.80" y2="392.60" stroke="#333" stroke-width="1.8"/>
<path d="M105.3,396.5 L107.0,392.5 L108.6,392.5 L110.3,396.5 Z" fill="#fff" stroke="#222" stroke-width="1.2" />
<path d="M59.5,393 L67.2,387 M59.5,389.3 L63.5,386.3" fill="none" stroke="#222" stroke-width="1.6" />
<rect x="83.10" y="486.00" width="39.50" height="20.00" fill="#fff" stroke="#1a1a1a" stroke-width="1.1"/>
<line x1="87.40" y1="491.00" x2="87.40" y2="506.00" stroke="#1a1a1a" stroke-width="1"/>
<line x1="118.90" y1="491.00" x2="118.90" y2="506.00" stroke="#1a1a1a" stroke-width="1"/>
<path d="M83.1,489 H122.6 M84,490.8 H99.5 l1,-1 h5.5 l1,1 H122" fill="none" stroke="#1a1a1a" stroke-width="0.9" />
<rect x="121.60" y="492.70" width="3.40" height="4.90" fill="#fff" stroke="#1a1a1a" stroke-width="1"/>
<path d="M86.9,484.6 L88.9,457 Q90.3,448 99.5,448 H106 Q115.2,448 116.6,457 L118.7,484.6 Z" fill="#fff" stroke="#2a2a2a" stroke-width="4.6" stroke-linejoin="round"/>
<path d="M86.9,484.6 L88.9,457 Q90.3,448 99.5,448 H106 Q115.2,448 116.6,457 L118.7,484.6 Z" fill="none" stroke="#666" stroke-width="3.2" stroke-linejoin="round"/>
<rect x="147.00" y="462.40" width="64.00" height="43.60" fill="#fff" stroke="#1a1a1a" stroke-width="1.1"/>
<ellipse cx="178.10" cy="480.70" rx="21.70" ry="14.60" fill="none" stroke="#111" stroke-width="1.6" />
<line x1="168.00" y1="495.40" x2="189.00" y2="495.40" stroke="#222" stroke-width="1.1"/>
<rect x="163.3" y="495" width="7.8" height="3.7" fill="#555"/>
<rect x="185.2" y="495" width="7.8" height="3.7" fill="#555"/>
<rect x="176.7" y="489.8" width="2.9" height="14" fill="#fff" stroke="#444" stroke-width="0.9"/>
<circle cx="178.10" cy="486.90" r="1.30" fill="#fff" stroke="#444" stroke-width="0.9"/>
</g>
<line x1="59.70" y1="556.30" x2="65.70" y2="556.30" stroke="#333" stroke-width="3"/>
<rect x="64.10" y="551.00" width="5.8" height="10.8" rx="1" fill="#505050"/>
<circle cx="75.70" cy="556.30" r="7.00" fill="#fff" stroke="#111" stroke-width="1.5"/>
<rect x="67.70" y="551.30" width="2.4" height="10" fill="#505050"/>
<ellipse cx="75.90" cy="556.30" rx="2.90" ry="2.60" fill="#555" stroke="#555" stroke-width="1" />
<line x1="69.70" y1="556.30" x2="74.70" y2="556.30" stroke="#444" stroke-width="1.5"/>
<line x1="59.70" y1="572.80" x2="66.70" y2="572.80" stroke="#333" stroke-width="1.8"/>
<path d="M70.9,570.1999999999999 L67.0,571.9 L67.0,573.6999999999999 L70.9,575.6999999999999 Z" fill="#fff" stroke="#222" stroke-width="1.2" />
<path d="M59.5,532.5 L67.2,526.5 M59.5,528.8 L63.5,525.8" fill="none" stroke="#222" stroke-width="1.6" />
<rect x="58.70" y="616.10" width="19.60" height="37.00" fill="#fff" stroke="#1a1a1a" stroke-width="1.1"/>
<rect x="60.20" y="619.10" width="13.30" height="31.80" fill="none" stroke="#1a1a1a" stroke-width="0.9"/>
<line x1="76.30" y1="616.10" x2="76.30" y2="653.10" stroke="#1a1a1a" stroke-width="0.9"/>
<rect x="66.10" y="653.10" width="4.80" height="4.10" fill="#fff" stroke="#1a1a1a" stroke-width="1"/>
<path d="M79.2,619 L105,621.6 Q116.9,622.5 116.9,634.6 Q116.9,646.7 105,647.6 L79.2,650.2" fill="#fff" stroke="#2a2a2a" stroke-width="4.6" stroke-linejoin="round"/>
<path d="M79.2,619 L105,621.6 Q116.9,622.5 116.9,634.6 Q116.9,646.7 105,647.6 L79.2,650.2" fill="none" stroke="#666" stroke-width="3.2" stroke-linejoin="round"/>
<line x1="78.60" y1="616.60" x2="78.60" y2="652.60" stroke="#1a1a1a" stroke-width="1"/>
<ellipse cx="225.70" cy="658.30" rx="14.70" ry="21.10" fill="none" stroke="#222" stroke-width="1.4" stroke-dasharray="2.2 0.5"/>
<rect x="231.5" y="656.90" width="15" height="2.8" fill="#fff" stroke="#555" stroke-width="0.9"/>
<circle cx="231.00" cy="658.30" r="1.20" fill="#fff" stroke="#555" stroke-width="0.9"/>
<rect x="239.9" y="643.3" width="3.3" height="7.00" fill="#fff" stroke="#555" stroke-width="1"/>
<rect x="239.9" y="665.5" width="3.3" height="7.70" fill="#fff" stroke="#555" stroke-width="1"/>
<line x1="239.00" y1="651.50" x2="241.50" y2="649.50" stroke="#555" stroke-width="1.2"/>
<line x1="239.00" y1="664.50" x2="241.50" y2="666.50" stroke="#555" stroke-width="1.2"/>
<path d="M536,101.00H540.4M536,102.55H540.4M536,104.10H540.4M536,105.65H540.4M536,107.20H540.4M536,108.75H540.4M536,110.30H540.4M536,111.85H540.4M536,113.40H540.4M536,114.95H540.4M536,116.50H540.4M536,118.05H540.4M536,119.60H540.4M536,121.15H540.4M536,122.70H540.4M536,124.25H540.4M536,125.80H540.4M536,127.35H540.4M536,128.90H540.4M536,130.45H540.4M536,132.00H540.4M536,133.55H540.4M536,135.10H540.4M536,136.65H540.4M536,138.20H540.4M536,139.75H540.4M536,141.30H540.4M536,142.85H540.4M536,144.40H540.4M536,145.95H540.4M536,147.50H540.4M536,149.05H540.4M536,150.60H540.4M536,152.15H540.4M536,153.70H540.4M536,155.25H540.4M536,156.80H540.4M536,158.35H540.4M536,159.90H540.4M536,161.45H540.4M536,163.00H540.4M536,164.55H540.4M536,166.10H540.4M536,167.65H540.4M536,169.20H540.4M536,170.75H540.4M536,172.30H540.4M536,173.85H540.4M536,175.40H540.4M536,176.95H540.4M536,178.50H540.4M536,180.05H540.4M536,181.60H540.4M536,183.15H540.4M536,184.70H540.4M536,186.25H540.4M536,187.80H540.4M536,189.35H540.4M536,190.90H540.4M536,192.45H540.4M536,194.00H540.4M536,195.55H540.4M536,197.10H540.4M536,198.65H540.4M536,200.20H540.4M536,201.75H540.4M536,203.30H540.4M536,204.85H540.4M536,206.40H540.4M536,207.95H540.4M536,209.50H540.4M536,211.05H540.4M536,212.60H540.4M536,214.15H540.4M536,215.70H540.4M536,217.25H540.4M536,218.80H540.4M536,220.35H540.4M536,221.90H540.4M536,223.45H540.4M536,225.00H540.4M536,226.55H540.4M536,228.10H540.4M536,229.65H540.4M536,231.20H540.4M536,232.75H540.4M536,234.30H540.4M536,235.85H540.4M536,237.40H540.4M536,238.95H540.4M536,240.50H540.4M536,242.05H540.4M536,243.60H540.4M536,245.15H540.4M536,246.70H540.4M536,248.25H540.4M536,249.80H540.4M536,251.35H540.4M536,252.90H540.4M536,254.45H540.4M536,256.00H540.4M536,257.55H540.4M536,259.10H540.4M536,260.65H540.4M536,262.20H540.4M536,263.75H540.4M536,265.30H540.4M536,266.85H540.4M536,268.40H540.4M536,269.95H540.4M536,271.50H540.4M536,273.05H540.4M536,274.60H540.4M536,276.15H540.4M536,277.70H540.4M536,279.25H540.4M536,280.80H540.4M536,282.35H540.4M536,283.90H540.4M536,285.45H540.4M536,287.00H540.4M536,288.55H540.4M536,290.10H540.4M536,291.65H540.4M536,293.20H540.4M536,294.75H540.4M536,296.30H540.4M536,297.85H540.4M536,299.40H540.4M536,300.95H540.4M536,302.50H540.4M536,304.05H540.4M536,305.60H540.4M536,307.15H540.4M536,308.70H540.4M536,310.25H540.4M536,311.80H540.4M536,313.35H540.4M536,314.90H540.4M536,316.45H540.4M536,318.00H540.4M536,319.55H540.4M536,321.10H540.4M536,322.65H540.4M536,324.20H540.4M536,325.75H540.4M536,327.30H540.4M536,328.85H540.4M536,330.40H540.4M536,331.95H540.4M536,333.50H540.4M536,335.05H540.4M536,336.60H540.4M536,338.15H540.4M536,339.70H540.4M536,341.25H540.4M536,342.80H540.4M536,344.35H540.4M536,345.90H540.4M536,347.45H540.4M536,349.00H540.4M536,350.55H540.4M536,352.10H540.4M536,353.65H540.4M536,355.20H540.4M536,356.75H540.4M536,358.30H540.4M536,359.85H540.4M536,361.40H540.4M536,362.95H540.4M536,364.50H540.4M536,366.05H540.4M536,367.60H540.4M536,369.15H540.4M536,370.70H540.4M536,372.25H540.4M536,373.80H540.4M536,375.35H540.4M536,376.90H540.4M536,378.45H540.4M536,380.00H540.4M536,381.55H540.4M536,383.10H540.4M536,384.65H540.4M536,386.20H540.4M536,387.75H540.4M536,389.30H540.4M536,390.85H540.4M536,392.40H540.4M536,393.95H540.4M536,395.50H540.4M536,397.05H540.4M536,398.60H540.4M536,400.15H540.4M536,401.70H540.4M536,403.25H540.4M536,404.80H540.4M536,406.35H540.4M536,407.90H540.4M536,409.45H540.4M536,411.00H540.4M536,412.55H540.4" fill="none" stroke="#000" stroke-width="1.0" />
<path d="M540.40,97.2V101.2M541.95,97.2V101.2M543.50,97.2V101.2M545.05,97.2V101.2M546.60,97.2V101.2M548.15,97.2V101.2M549.70,97.2V101.2M551.25,97.2V101.2M552.80,97.2V101.2M554.35,97.2V101.2M555.90,97.2V101.2M557.45,97.2V101.2M559.00,97.2V101.2M560.55,97.2V101.2M562.10,97.2V101.2M563.65,97.2V101.2M565.20,97.2V101.2M566.75,97.2V101.2M568.30,97.2V101.2M569.85,97.2V101.2M571.40,97.2V101.2M572.95,97.2V101.2M574.50,97.2V101.2M576.05,97.2V101.2M577.60,97.2V101.2M579.15,97.2V101.2M580.70,97.2V101.2" fill="none" stroke="#000" stroke-width="1.0" />
<path d="M674.6,92V95.4M676.6,92V95.4M679.2,92.3V95.4M683.6,92V95.4" fill="none" stroke="#111" stroke-width="1.0" />
<path d="M540.40,411V414.6M541.95,411V414.6M543.50,411V414.6M545.05,411V414.6M546.60,411V414.6M548.15,411V414.6M549.70,411V414.6M551.25,411V414.6M552.80,411V414.6M554.35,411V414.6M555.90,411V414.6M557.45,411V414.6M559.00,411V414.6M560.55,411V414.6M562.10,411V414.6M563.65,411V414.6M565.20,411V414.6M566.75,411V414.6M568.30,411V414.6M569.85,411V414.6M571.40,411V414.6M572.95,411V414.6M574.50,411V414.6M576.05,411V414.6M577.60,411V414.6M579.15,411V414.6M580.70,411V414.6" fill="none" stroke="#000" stroke-width="1.0" />
<path d="M673.80,411V414.6M675.35,411V414.6M676.90,411V414.6M678.45,411V414.6M680.00,411V414.6M681.55,411V414.6M683.10,411V414.6M684.65,411V414.6M686.20,411V414.6" fill="none" stroke="#000" stroke-width="1.0" />
<line x1="540.40" y1="101.20" x2="540.40" y2="411.00" stroke="#333" stroke-width="0.8"/>
<line x1="540.40" y1="101.20" x2="581.00" y2="101.20" stroke="#333" stroke-width="0.8"/>
<line x1="672.60" y1="95.40" x2="687.20" y2="95.40" stroke="#111" stroke-width="1.1"/>
<line x1="540.40" y1="411.00" x2="581.00" y2="411.00" stroke="#333" stroke-width="0.8"/>
<line x1="673.80" y1="411.00" x2="687.00" y2="411.00" stroke="#333" stroke-width="0.8"/>
<path d="M581,121.7 H561.8 V384 H581 M673.5,121.7 H679 V384 H673.8" fill="none" stroke="#505050" stroke-width="5" stroke-linejoin="round" filter="url(#rough)"/>
<path d="M581,121.7 H561.8 V384 H581 M673.5,121.7 H679 V384 H673.8" fill="none" stroke="#3a3a3a" stroke-width="0.8" stroke-dasharray="1 2.2"/>
<rect x="582.70" y="192.70" width="60.60" height="111.30" fill="#fff" stroke="#1a1a1a" stroke-width="1.2"/>
<rect x="586.70" y="196.70" width="52.60" height="103.30" fill="none" stroke="#1a1a1a" stroke-width="1.1"/>
<path d="M585,73.9 H669.5 Q673.3,73.9 673.3,77.5 V127 Q673.3,130.6 669.5,130.6 H585 Q581.1,130.6 581.1,127 V77.5 Q581.1,73.9 585,73.9 Z" fill="#fff" stroke="#1a1a1a" stroke-width="1.2" />
<path d="M581.5,80 Q590,92 599.6,92.5" fill="none" stroke="#1a1a1a" stroke-width="1" />
<path d="M673,80 Q666,91 656,92" fill="none" stroke="#1a1a1a" stroke-width="1" />
<path d="M599.6,90.6 H656 V132 Q656,136.1 652,136.1 H603.6 Q599.6,136.1 599.6,132 Z" fill="#fff" stroke="#1a1a1a" stroke-width="1.2" />
<g filter="url(#rough)">
<path d="M590.5,74.5 C591,82 594,88 601.5,91" fill="none" stroke="#4a4a4a" stroke-width="2.8" stroke-linecap="round"/>
<path d="M595.5,74.5 C596,81 598.5,86 603,88.5" fill="none" stroke="#4a4a4a" stroke-width="2.8" stroke-linecap="round"/>
<path d="M600,99 C618,110 638,117 656,120" fill="none" stroke="#4a4a4a" stroke-width="2.8" stroke-linecap="round"/>
<path d="M600,106.5 C618,115 638,119.5 656,121.5" fill="none" stroke="#4a4a4a" stroke-width="2.8" stroke-linecap="round"/>
<path d="M656.5,96.5 C662,96 668,94.5 673,92.5" fill="none" stroke="#4a4a4a" stroke-width="2.8" stroke-linecap="round"/>
<path d="M656.5,102 C662,104.5 668,105.5 673,105" fill="none" stroke="#4a4a4a" stroke-width="2.8" stroke-linecap="round"/>
</g>
<g transform="translate(0,504.5) scale(1,-1)">
<path d="M585,73.9 H669.5 Q673.3,73.9 673.3,77.5 V127 Q673.3,130.6 669.5,130.6 H585 Q581.1,130.6 581.1,127 V77.5 Q581.1,73.9 585,73.9 Z" fill="#fff" stroke="#1a1a1a" stroke-width="1.2" />
<path d="M581.5,80 Q590,92 599.6,92.5" fill="none" stroke="#1a1a1a" stroke-width="1" />
<path d="M673,80 Q666,91 656,92" fill="none" stroke="#1a1a1a" stroke-width="1" />
<path d="M599.6,90.6 H656 V132 Q656,136.1 652,136.1 H603.6 Q599.6,136.1 599.6,132 Z" fill="#fff" stroke="#1a1a1a" stroke-width="1.2" />
<g filter="url(#rough)">
<path d="M590.5,74.5 C591,82 594,88 601.5,91" fill="none" stroke="#4a4a4a" stroke-width="2.8" stroke-linecap="round"/>
<path d="M595.5,74.5 C596,81 598.5,86 603,88.5" fill="none" stroke="#4a4a4a" stroke-width="2.8" stroke-linecap="round"/>
<path d="M600,99 C618,110 638,117 656,120" fill="none" stroke="#4a4a4a" stroke-width="2.8" stroke-linecap="round"/>
<path d="M600,106.5 C618,115 638,119.5 656,121.5" fill="none" stroke="#4a4a4a" stroke-width="2.8" stroke-linecap="round"/>
<path d="M656.5,96.5 C662,96 668,94.5 673,92.5" fill="none" stroke="#4a4a4a" stroke-width="2.8" stroke-linecap="round"/>
<path d="M656.5,102 C662,104.5 668,105.5 673,105" fill="none" stroke="#4a4a4a" stroke-width="2.8" stroke-linecap="round"/>
</g>
</g>
<rect x="687.00" y="73.00" width="58.60" height="63.50" fill="#fff" stroke="#000" stroke-width="1.3"/>
<rect x="690.80" y="76.80" width="52.00" height="56.10" fill="none" stroke="#444" stroke-width="1.2"/>
<circle cx="719.30" cy="103.40" r="10.70" fill="none" stroke="#1a1a1a" stroke-width="1.1"/>
<circle cx="719.30" cy="103.40" r="8.10" fill="none" stroke="#1a1a1a" stroke-width="1.1"/>
<line x1="706.30" y1="103.40" x2="732.30" y2="103.40" stroke="#1a1a1a" stroke-width="1"/>
<line x1="719.30" y1="90.40" x2="719.30" y2="117.40" stroke="#1a1a1a" stroke-width="1"/>
<rect x="687.00" y="367.60" width="59.20" height="63.70" fill="#fff" stroke="#000" stroke-width="1.3"/>
<rect x="690.80" y="371.40" width="52.60" height="56.30" fill="none" stroke="#444" stroke-width="1.2"/>
<circle cx="717.40" cy="399.40" r="10.70" fill="none" stroke="#1a1a1a" stroke-width="1.1"/>
<circle cx="717.40" cy="399.40" r="8.10" fill="none" stroke="#1a1a1a" stroke-width="1.1"/>
<line x1="704.40" y1="399.40" x2="730.40" y2="399.40" stroke="#1a1a1a" stroke-width="1"/>
<line x1="717.40" y1="386.40" x2="717.40" y2="413.40" stroke="#1a1a1a" stroke-width="1"/>
<path d="M694,151.3 H745.6 V167.5 H689.8 V155.5 Q689.8,151.3 694,151.3 Z" fill="#fff" stroke="#1a1a1a" stroke-width="1.1" />
<path d="M689.8,336.5 H745.6 V352.2 H694 Q689.8,352.2 689.8,348 Z" fill="#fff" stroke="#1a1a1a" stroke-width="1.1" />
<path d="M730,167.5 H745.6 V336.5 H730 Z" fill="#fff" stroke="#1a1a1a" stroke-width="1" />
<path d="M745.6,152 Q731.5,153 730.5,167.5" fill="none" stroke="#1a1a1a" stroke-width="1" />
<path d="M745.6,351.5 Q733,350 730.5,336.5" fill="none" stroke="#1a1a1a" stroke-width="1" />
<path d="M730,214 Q731,222.5 745.6,223" fill="none" stroke="#4a4a4a" stroke-width="2" />
<path d="M731,281.5 H745.6" fill="none" stroke="#4a4a4a" stroke-width="1.6" />
<path d="M730.5,170 Q733,160.5 745.6,160" fill="none" stroke="#4a4a4a" stroke-width="1.8" />
<path d="M732.5,166 Q736,163.5 745.6,163.5" fill="none" stroke="#4a4a4a" stroke-width="1.6" />
<path d="M688.2,167.5 H727 Q730,167.5 730,170.5 V220.8 Q730,223.8 727,223.8 H688.2 Q685.2,223.8 685.2,220.8 V170.5 Q685.2,167.5 688.2,167.5 Z" fill="#fff" stroke="#1a1a1a" stroke-width="1.2" />
<path d="M688.2,223.8 H727 Q730,223.8 730,226.8 V277 Q730,280 727,280 H688.2 Q685.2,280 685.2,277 V226.8 Q685.2,223.8 688.2,223.8 Z" fill="#fff" stroke="#1a1a1a" stroke-width="1.2" />
<path d="M688.2,280 H727 Q730,280 730,283 V333.5 Q730,336.5 727,336.5 H688.2 Q685.2,336.5 685.2,333.5 V283 Q685.2,280 688.2,280 Z" fill="#fff" stroke="#1a1a1a" stroke-width="1.2" />
<g filter="url(#rough)">
<path d="M704,151.5 C703.5,158 702,163 700.5,167" fill="none" stroke="#4a4a4a" stroke-width="2.8" stroke-linecap="round"/>
<path d="M708,151.5 C707.5,158 706,163 704,167.5" fill="none" stroke="#4a4a4a" stroke-width="2.8" stroke-linecap="round"/>
<path d="M712,151.5 C711,158 709,163 706.5,167.5" fill="none" stroke="#4a4a4a" stroke-width="2.8" stroke-linecap="round"/>
<path d="M714,167.5 C707,185 703,204 702.5,223.5" fill="none" stroke="#4a4a4a" stroke-width="2.8" stroke-linecap="round"/>
<path d="M725,167.5 C716,186 709.5,205 706.5,223.5" fill="none" stroke="#4a4a4a" stroke-width="2.8" stroke-linecap="round"/>
<path d="M713,224 C705,242 701.5,262 701,280" fill="none" stroke="#4a4a4a" stroke-width="2.8" stroke-linecap="round"/>
<path d="M720.5,224 C711,242 705,262 703,280" fill="none" stroke="#4a4a4a" stroke-width="2.8" stroke-linecap="round"/>
<path d="M713,280.5 C705.5,298 701,318 700,336.5" fill="none" stroke="#4a4a4a" stroke-width="2.8" stroke-linecap="round"/>
<path d="M717,337 C715.5,342 715.5,347 717.5,352" fill="none" stroke="#4a4a4a" stroke-width="2.8" stroke-linecap="round"/>
<path d="M722,337 C720.5,342 721,347 723.5,352" fill="none" stroke="#4a4a4a" stroke-width="2.8" stroke-linecap="round"/>
<path d="M726.5,337 C725,342 725.5,347 728,352" fill="none" stroke="#4a4a4a" stroke-width="2.8" stroke-linecap="round"/>
</g>
<line x1="701.00" y1="136.50" x2="701.00" y2="151.30" stroke="#1a1a1a" stroke-width="1"/>
<line x1="701.00" y1="352.20" x2="701.00" y2="367.60" stroke="#1a1a1a" stroke-width="1"/>
<line x1="701.00" y1="139.00" x2="704.00" y2="139.00" stroke="#333" stroke-width="0.8"/>
<line x1="701.00" y1="141.50" x2="704.00" y2="141.50" stroke="#333" stroke-width="0.8"/>
<line x1="701.00" y1="144.00" x2="704.00" y2="144.00" stroke="#333" stroke-width="0.8"/>
<line x1="701.00" y1="356.50" x2="704.00" y2="356.50" stroke="#333" stroke-width="0.8"/>
<line x1="701.00" y1="359.00" x2="704.00" y2="359.00" stroke="#333" stroke-width="0.8"/>
<line x1="701.00" y1="361.50" x2="704.00" y2="361.50" stroke="#333" stroke-width="0.8"/>
<path d="M876.4,948.2 H981.5 V979.3 H919.4 V1065 H876.4 Z" fill="#fff" stroke="#1a1a1a" stroke-width="1.2" />
<line x1="919.40" y1="948.20" x2="919.40" y2="979.30" stroke="#1a1a1a" stroke-width="1.2"/>
<rect x="925.8" y="994.6" width="22.5" height="5" rx="1.5" fill="#fff" stroke="#1a1a1a" stroke-width="1"/>
<rect x="925.8" y="1036.6" width="22.5" height="5" rx="1.5" fill="#fff" stroke="#1a1a1a" stroke-width="1"/>
<rect x="924" y="1000" width="30.3" height="35.5" rx="2.5" fill="#fff" stroke="#1a1a1a" stroke-width="1.3"/>
<line x1="925.50" y1="1002.00" x2="953.00" y2="1002.00" stroke="#777" stroke-width="0.9"/>
<line x1="952.50" y1="1001.00" x2="952.50" y2="1034.50" stroke="#777" stroke-width="0.9"/>
<rect x="957" y="1000.6" width="5.3" height="35" rx="2.6" fill="#fff" stroke="#1a1a1a" stroke-width="1.1"/>
<rect x="954.6" y="1015" width="2.6" height="6" fill="#888" stroke="#1a1a1a" stroke-width="0.7"/>
<path d="M901.7,1016.2 L916.8,1043.9 L905.3,1051.2 L890.9,1022.3 Z" fill="#fff" stroke="#1a1a1a" stroke-width="1.2" />
<path d="M890.9,1022.3 L878.8,1036.1 L886.7,1052.4 L904,1049.2" fill="#fff" stroke="#1a1a1a" stroke-width="1.2" />
<line x1="894.20" y1="1020.40" x2="908.60" y2="1049.20" stroke="#1a1a1a" stroke-width="1"/>
<line x1="892.60" y1="1021.40" x2="907.00" y2="1050.20" stroke="#1a1a1a" stroke-width="0.9"/>
<path d="M896,1018 L894.5,1010 L890.3,1006 L890.3,1001.8 L902.5,1001.8" fill="none" stroke="#1a1a1a" stroke-width="1" />
<rect x="902.4" y="998.6" width="7.2" height="4.6" rx="1.6" fill="#fff" stroke="#1a1a1a" stroke-width="1" transform="rotate(-12 906 1001)"/>
<rect x="902.4" y="999.2" width="3.4" height="4.4" rx="1.2" fill="#333" transform="rotate(-12 906 1001)"/>
<text transform="translate(228.13,226.99) scale(1.0414,1.003)" font-size="34.5">卧室</text>
<text transform="translate(406.47,270.27) scale(1.0261,1.0091)" font-size="34.5">客厅</text>
<text transform="translate(777.27,222.81) scale(1.0422,0.997)" font-size="34.5">卧室</text>
<text transform="translate(113.92,437.97) scale(0.9767,0.9643)" font-size="32.5">卫</text>
<text transform="translate(917.92,446.97) scale(0.9767,0.9643)" font-size="32.5">卫</text>
<text transform="translate(105.69,572.1) scale(1.0074,0.9677)" font-size="32.5">卫生间</text>
<text transform="translate(499.6,738.16) scale(1.0477,1.0469)" font-size="34.5">天井</text>
<text transform="translate(490.96,962.14) scale(1.0403,1.0188)" font-size="34.5">过道</text>
<text transform="translate(245.17,1058.09) scale(1.0422,1.003)" font-size="34.5">卧室</text>
<text transform="translate(776.56,1058.52) scale(1.0703,1.0594)" font-size="34.5">书房</text>
<text transform="translate(496.54,1198.16) scale(1.054,1.0469)" font-size="34.5">阳台</text>
<text transform="translate(138.19,777.7) scale(1.01,0.9677)" font-size="32.5">衣</text>
<text transform="translate(137.68,821.92) scale(1.0103,0.9613)" font-size="32.5">帽</text>
<text transform="translate(137.63,866.24) scale(1.0222,0.9548)" font-size="32.5">间</text>
<text transform="translate(849.76,589.06) scale(1.0207,0.9793)" font-size="32.5">下</text>
<text transform="translate(947.61,586.69) scale(0.99,0.9533)" font-size="32.5">上</text>
</svg>
</body></html>
